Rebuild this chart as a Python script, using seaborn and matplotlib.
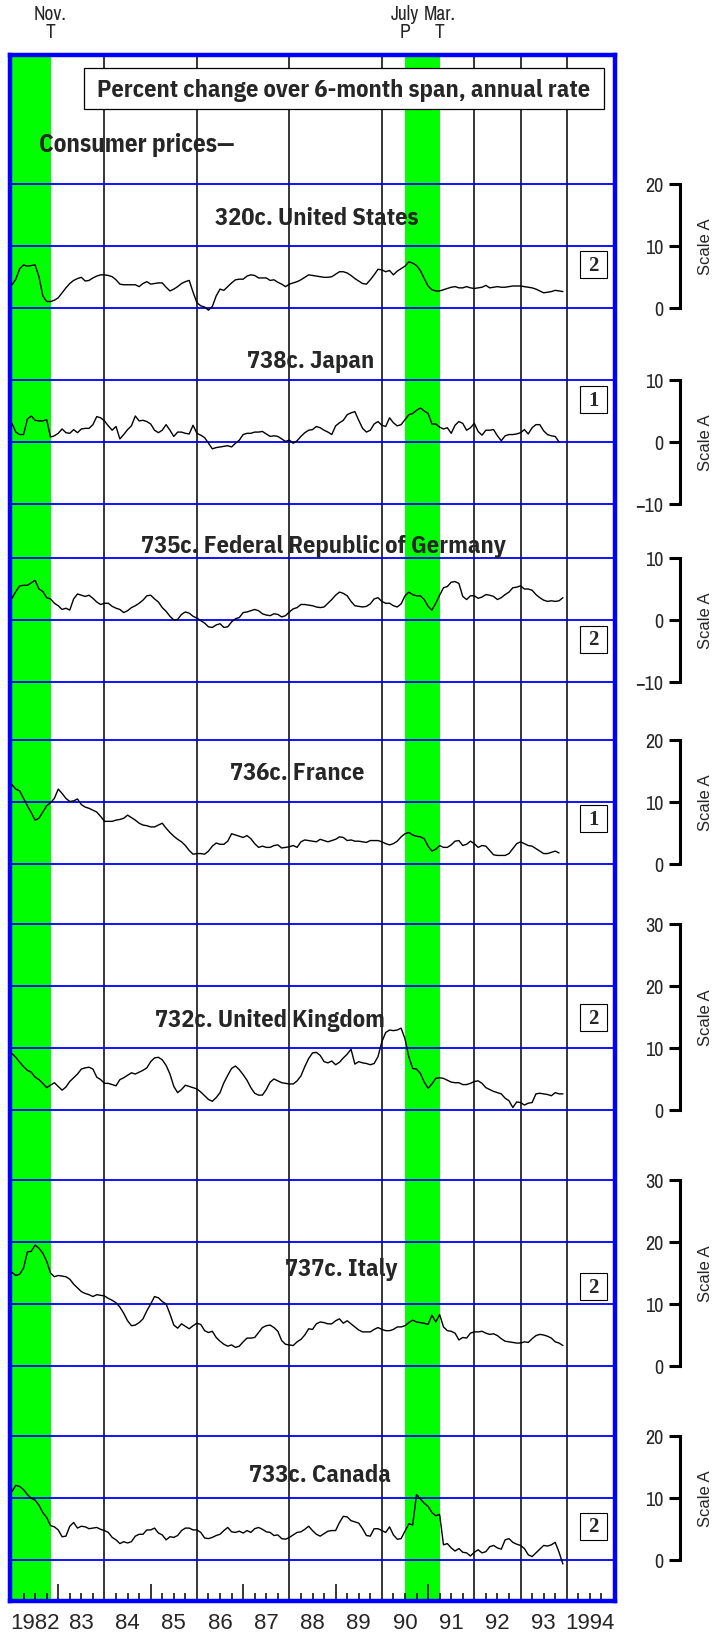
import numpy as np
import matplotlib
matplotlib.use("Agg")
import matplotlib.pyplot as plt
import matplotlib.transforms as mtransforms
import seaborn as sns

# Consumer prices, percent change over 6-month span (annual rate), monthly from Jan 1982
us = [
    3.7, 4.6, 6.3, 6.9, 6.7, 6.8, 6.9, 5.0, 1.9, 1.0, 1.0, 1.2,
    1.6, 2.4, 3.2, 3.9, 4.4, 4.7, 4.9, 4.3, 4.4, 4.8, 5.1, 5.3,
    5.3, 5.2, 5.0, 4.5, 3.8, 3.7, 3.7, 3.7, 3.7, 3.4, 3.9, 4.2,
    3.8, 3.9, 4.0, 4.0, 3.3, 2.7, 3.0, 3.4, 3.9, 4.2, 4.4, 2.5,
    0.8, 0.3, 0.1, -0.4, 0.2, 1.9, 3.0, 2.8, 3.4, 4.0, 4.5, 4.6,
    4.6, 5.1, 5.3, 5.2, 4.8, 4.8, 4.8, 4.4, 4.5, 4.1, 3.8, 3.4,
    3.8, 4.0, 4.2, 4.5, 4.9, 5.3, 5.2, 5.1, 5.0, 4.9, 4.9, 5.0,
    5.4, 5.8, 5.8, 5.6, 5.2, 4.7, 4.3, 3.9, 3.8, 4.5, 5.3, 6.2,
    6.1, 5.8, 6.0, 5.3, 5.9, 6.3, 6.7, 7.4, 7.2, 6.8, 6.0, 4.7,
    3.5, 2.9, 2.7, 2.7, 2.9, 3.1, 3.3, 3.4, 3.2, 3.2, 3.4, 3.2,
    3.1, 3.2, 3.3, 3.6, 3.2, 3.3, 3.4, 3.3, 3.3, 3.4, 3.5, 3.5,
    3.5, 3.4, 3.3, 3.2, 3.0, 2.7, 2.4, 2.5, 2.6, 2.8, 2.7, 2.6,
]
japan = [
    3.0, 1.6, 1.2, 1.2, 3.7, 4.2, 3.5, 3.4, 3.4, 3.6, 0.8, 1.0,
    1.4, 2.1, 1.5, 1.4, 2.0, 1.5, 2.1, 2.2, 2.2, 2.8, 4.1, 3.9,
    3.4, 2.6, 1.9, 2.5, 0.5, 1.2, 2.0, 2.6, 4.2, 3.4, 3.5, 3.3,
    2.9, 1.9, 1.5, 1.9, 2.8, 1.9, 0.9, 1.6, 1.6, 1.4, 1.3, 2.7,
    1.4, 1.1, 0.7, -0.2, -1.1, -0.9, -0.8, -0.7, -0.6, -0.8, -0.2, 0.3,
    1.2, 1.4, 1.4, 1.6, 1.6, 1.7, 1.3, 0.9, 1.0, 0.9, 0.5, 0.1,
    0.3, -0.2, 0.2, 0.9, 1.5, 1.9, 2.0, 2.5, 2.3, 1.9, 1.6, 1.2,
    2.6, 3.1, 3.5, 4.4, 4.7, 4.9, 3.5, 2.2, 1.6, 1.9, 2.9, 3.3,
    2.7, 2.5, 3.9, 3.1, 2.6, 2.8, 3.6, 4.4, 4.6, 5.1, 5.5, 5.0,
    4.6, 2.9, 2.9, 2.4, 2.1, 2.3, 1.4, 2.7, 3.3, 3.0, 1.9, 2.3,
    3.0, 1.7, 1.1, 1.9, 1.9, 2.0, 1.0, 0.2, 1.0, 1.2, 1.2, 1.3,
    1.5, 2.0, 1.3, 2.3, 2.8, 2.8, 1.8, 1.2, 1.0, 0.9, 0.0,
]
germany = [
    3.5, 4.6, 5.5, 5.6, 5.6, 6.0, 6.4, 5.0, 4.6, 3.6, 3.4, 2.7,
    2.3, 1.7, 1.9, 1.6, 3.4, 4.2, 4.0, 3.8, 4.0, 3.5, 2.9, 2.5,
    2.7, 2.7, 2.2, 1.9, 1.7, 1.2, 1.5, 2.0, 2.3, 2.7, 3.2, 3.9,
    4.0, 3.4, 2.9, 2.0, 1.4, 0.6, 0.0, 0.1, 0.9, 1.3, 1.1, 0.6,
    0.3, -0.1, -0.5, -1.1, -1.2, -0.8, -0.6, -1.2, -1.1, -0.3, 0.2, 0.4,
    1.2, 1.3, 1.5, 1.7, 1.5, 1.0, 0.8, 0.7, 1.0, 0.9, 0.5, 0.7,
    1.3, 1.8, 2.0, 2.5, 2.5, 2.4, 2.3, 2.1, 2.0, 2.1, 2.7, 3.3,
    4.0, 4.5, 4.3, 3.9, 3.0, 2.3, 2.2, 2.1, 2.2, 2.6, 3.4, 3.6,
    3.0, 2.7, 2.7, 2.3, 2.1, 2.6, 3.9, 4.5, 4.1, 3.9, 3.9, 3.3,
    2.2, 1.6, 2.7, 4.0, 5.2, 5.4, 6.1, 6.2, 5.9, 3.8, 3.3, 3.9,
    3.9, 3.5, 3.7, 4.1, 4.0, 3.8, 3.3, 3.6, 4.1, 4.5, 5.2, 5.3,
    5.5, 5.0, 5.0, 4.8, 4.1, 3.6, 3.2, 3.0, 3.1, 3.0, 3.1, 3.6,
]
france = [
    12.7, 12.0, 11.7, 10.5, 9.3, 8.2, 7.0, 7.3, 8.3, 9.3, 9.8, 10.5,
    12.0, 11.3, 10.5, 10.0, 10.1, 10.4, 9.5, 9.1, 8.9, 8.6, 8.3, 7.6,
    6.8, 6.8, 6.8, 7.0, 7.1, 7.3, 7.8, 7.4, 7.0, 6.5, 6.2, 6.1,
    5.9, 5.9, 6.2, 6.5, 5.7, 5.0, 4.4, 3.9, 3.5, 2.9, 2.1, 1.5,
    1.6, 1.6, 1.5, 2.0, 2.8, 3.3, 3.1, 3.1, 3.6, 4.8, 4.6, 4.4,
    4.2, 4.5, 4.0, 3.2, 2.6, 2.8, 2.6, 2.6, 2.9, 3.0, 2.5, 2.6,
    2.7, 2.9, 2.6, 3.5, 3.8, 3.7, 3.6, 3.5, 3.9, 3.7, 3.5, 3.7,
    3.9, 4.3, 4.2, 3.7, 3.8, 3.6, 3.6, 3.5, 3.4, 3.7, 3.7, 3.7,
    3.5, 3.2, 3.0, 3.2, 3.6, 4.3, 4.8, 5.0, 4.6, 4.4, 4.3, 4.0,
    2.8, 2.0, 2.3, 2.9, 2.6, 2.6, 3.0, 3.6, 3.7, 2.9, 3.1, 3.6,
    3.2, 2.6, 2.9, 2.8, 2.1, 1.4, 1.3, 1.3, 1.3, 1.6, 2.4, 3.2,
    3.5, 3.2, 2.9, 2.8, 2.4, 2.0, 1.6, 1.6, 1.8, 2.0, 1.7,
]
uk = [
    9.1, 8.5, 7.7, 7.0, 6.4, 6.1, 5.3, 4.9, 4.3, 3.6, 4.0, 4.4,
    3.8, 3.2, 3.7, 4.6, 5.2, 5.8, 6.6, 6.8, 6.9, 6.6, 5.3, 4.9,
    4.3, 4.3, 4.1, 3.9, 4.9, 5.2, 5.6, 6.0, 5.8, 6.1, 6.4, 6.8,
    7.8, 8.4, 8.5, 8.1, 7.2, 5.8, 3.8, 2.8, 3.3, 4.0, 3.8, 3.6,
    3.4, 2.9, 2.3, 1.7, 1.4, 2.0, 2.8, 4.4, 5.6, 6.7, 7.1, 6.5,
    5.7, 4.8, 3.6, 2.7, 2.4, 2.4, 3.3, 4.5, 5.0, 4.7, 4.4, 4.3,
    4.2, 4.2, 4.7, 5.5, 7.0, 8.3, 9.2, 9.3, 8.8, 7.8, 7.6, 7.9,
    7.3, 7.7, 8.4, 9.0, 9.8, 7.4, 7.8, 7.6, 7.5, 7.3, 7.5, 8.6,
    11.0, 12.5, 12.9, 12.8, 12.9, 13.2, 11.5, 8.6, 6.7, 6.6, 5.9, 4.5,
    3.5, 4.2, 5.1, 5.2, 5.1, 4.8, 4.5, 4.4, 4.4, 4.1, 4.1, 4.3,
    4.6, 4.7, 4.3, 3.6, 3.3, 3.0, 2.8, 2.6, 1.9, 1.5, 0.4, 1.3,
    1.2, 0.8, 1.1, 1.2, 2.6, 2.7, 2.6, 2.5, 2.3, 2.8, 2.6, 2.6,
]
italy = [
    15.1, 14.6, 14.8, 15.8, 18.4, 18.5, 19.5, 19.0, 18.2, 16.9, 15.0, 14.4,
    14.6, 14.5, 14.4, 14.0, 13.2, 12.6, 12.0, 11.7, 11.5, 11.2, 11.5, 11.4,
    11.3, 10.9, 10.6, 10.2, 9.5, 8.5, 7.3, 6.5, 6.6, 7.0, 7.6, 8.9,
    10.0, 11.2, 11.0, 10.4, 10.0, 8.4, 6.6, 6.1, 6.8, 6.4, 6.0, 6.5,
    6.9, 6.7, 5.7, 5.4, 5.6, 4.6, 4.0, 3.5, 3.2, 3.4, 3.0, 3.2,
    3.9, 4.5, 4.5, 4.6, 5.4, 6.2, 6.5, 6.6, 6.2, 5.6, 4.1, 3.5,
    3.4, 3.3, 3.9, 4.3, 5.0, 6.0, 5.9, 6.8, 7.1, 7.0, 6.8, 6.8,
    7.3, 7.6, 6.9, 7.3, 6.8, 6.3, 5.8, 5.5, 5.5, 5.5, 5.9, 6.2,
    5.9, 5.7, 5.7, 5.9, 6.3, 6.3, 6.5, 7.0, 7.4, 7.1, 7.0, 6.9,
    6.7, 8.2, 7.1, 8.3, 6.3, 5.7, 5.6, 5.3, 4.2, 4.6, 4.5, 5.3,
    5.5, 5.5, 5.6, 5.3, 5.1, 5.2, 4.9, 4.4, 4.0, 3.9, 3.8, 3.7,
    3.7, 3.9, 3.8, 4.4, 4.9, 5.1, 5.0, 4.8, 4.5, 3.9, 3.7, 3.3,
]
canada = [
    11.0, 12.0, 11.8, 11.3, 10.5, 9.9, 9.6, 8.8, 7.6, 6.8, 5.5, 5.3,
    4.8, 3.7, 3.8, 5.4, 6.0, 5.1, 5.4, 5.3, 5.0, 5.1, 5.2, 4.9,
    4.7, 4.4, 3.6, 3.2, 2.6, 2.9, 2.7, 2.9, 3.8, 4.1, 4.1, 4.8,
    4.8, 5.1, 4.3, 4.0, 3.2, 3.7, 3.6, 3.9, 4.7, 5.1, 5.1, 4.8,
    4.8, 4.4, 3.5, 3.4, 3.6, 3.9, 4.1, 4.7, 5.2, 4.5, 4.4, 4.6,
    4.3, 4.7, 4.4, 5.0, 5.2, 4.9, 4.5, 4.4, 3.9, 4.0, 3.4, 3.3,
    3.6, 4.0, 4.4, 4.5, 4.9, 5.4, 4.7, 4.1, 3.8, 4.2, 4.6, 4.7,
    4.7, 6.0, 7.0, 6.9, 6.3, 6.1, 5.9, 5.0, 3.9, 3.8, 5.0, 5.0,
    4.7, 4.4, 5.3, 4.0, 3.3, 3.4, 4.6, 5.8, 5.6, 10.5, 9.8, 9.1,
    8.6, 7.6, 7.1, 7.3, 2.4, 2.6, 1.9, 1.4, 1.8, 1.2, 1.1, 0.6,
    1.2, 1.6, 1.1, 1.3, 2.1, 2.3, 1.9, 1.7, 3.2, 3.4, 2.8, 2.5,
    2.3, 1.8, 0.8, 0.5, 1.1, 1.7, 2.3, 2.2, 2.4, 2.8, 1.2, -0.7,
]

series = [us, japan, germany, france, uk, italy, canada]
titles = ["320c. United States", "738c. Japan", "735c. Federal Republic of Germany",
          "736c. France", "732c. United Kingdom", "737c. Italy", "733c. Canada"]
scale_ticks = [[0, 10, 20], [-10, 0, 10], [-10, 0, 10], [0, 10, 20],
               [0, 10, 20, 30], [0, 10, 20, 30], [0, 10, 20]]
box_numbers = ["2", "1", "2", "1", "2", "2", "2"]

# recessions (peak, trough) and the turning point labels
rec_start = [1981.5, 1990.5]
rec_end = [1982.833, 1991.25]
turn_dates = [1982.833, 1990.5, 1991.25]
turn_months = ["Nov.", "July", "Mar."]
turn_types = ["T", "P", "T"]

year_lines = [1984, 1986, 1988, 1990, 1992, 1993, 1994]
year_ticks = [1983, 1985, 1987, 1989, 1991]
year_labels = ["1982", "83", "84", "85", "86", "87", "88", "89", "90", "91", "92", "93", "1994"]

# layout (pixels)
W, H = 713, 1633
L, R, T, B = 9.8, 615.3, 55.8, 1601.5     # frame border centres
X0, X1 = 12.0, 613.0                      # 1982.0 and 1995.0
S = 6.2                                   # pixels per percentage point
zero_px = [308.7, 443, 621, 864.5, 1111, 1367, 1560.7]
title_pos = [(1988.59, 13.5), (1988.45, 12.1), (1988.73, 11.0), (1988.16, 13.6),
             (1987.57, 13.5), (1989.12, 14.6), (1988.66, 12.7)]
box_pos = [6.9, 6.8, -3.1, 7.2, 14.9, 12.8, 5.4]

sns.set_theme(style="white")
NARROW = ["Archivo Narrow", "Liberation Sans", "DejaVu Sans"]
BOLD = ["IBM Plex Sans Condensed", "Encode Sans Condensed", "Liberation Sans", "DejaVu Sans"]
SANS = ["Liberation Sans", "DejaVu Sans"]
plt.rcParams["font.family"] = NARROW

fig = plt.figure(figsize=(W / 100, H / 100), dpi=100)


def rect(left, top, right, bottom):
    return [left / W, 1 - bottom / H, (right - left) / W, (bottom - top) / H]


xpp = (X1 - X0) / 13
xlim = (1982 - (X0 - L) / xpp, 1995 + (R - X1) / xpp)

base = fig.add_axes(rect(L, T, R, B))
base.set_xlim(xlim)
base.set_ylim(0, 1)
base.set_yticks([])
for s in base.spines.values():
    s.set_color("blue")
    s.set_linewidth(3.2)
    s.set_zorder(5)
for a, b in zip(rec_start, rec_end):
    base.axvspan(a, b, color="#00ff00", lw=0, zorder=0)
for yr in year_lines:
    base.axvline(yr, color="black", lw=1.1, zorder=1)
base.set_xticks(year_ticks)
base.set_xticks([q for q in np.arange(1982, 1995, 0.25) if q % 1], minor=True)
base.tick_params(axis="x", which="major", direction="in", length=12, width=1.1,
                 color="black", bottom=True, top=False, labelbottom=False)
base.tick_params(axis="x", which="minor", direction="in", length=5.6, width=1.1,
                 color="black", bottom=True, top=False)

sec = base.secondary_xaxis("bottom")
sec.set_xticks(np.arange(1982, 1995) + 0.5, labels=year_labels)
sec.tick_params(length=0, pad=8, labelsize=16)
for lab in sec.get_xticklabels():
    lab.set_family(SANS)
sec.spines["bottom"].set_visible(False)

tr_top = mtransforms.blended_transform_factory(base.transData, fig.transFigure)
for d, m, t in zip(turn_dates, turn_months, turn_types):
    base.text(d, 1 - 14 / H, m, transform=tr_top, ha="center", va="center", fontsize=14)
    base.text(d, 1 - 33 / H, t, transform=tr_top, ha="center", va="center", fontsize=14)

fig.add_artist(plt.Rectangle((84 / W, 1 - 110 / H), (604 - 84) / W, 41 / H,
                             transform=fig.transFigure, fc="white", ec="black", lw=0.9, zorder=2))
fig.text(344 / W, 1 - 90 / H, "Percent change over 6-month span, annual rate",
         ha="center", va="center", fontsize=17.6, fontweight="bold", family=BOLD, zorder=3)
fig.text(39 / W, 1 - 145 / H, "Consumer prices\u2014", ha="left", va="center",
         fontsize=18, fontweight="bold", family=BOLD, zorder=3)

spine_x = (679.5 - L) / (R - L)
label_x = (705 - L) / (R - L)
for i, vals in enumerate(series):
    ticks = scale_ticks[i]
    lo, hi = ticks[0], ticks[-1]
    y0, y1 = lo - 5, hi + 5
    ax = fig.add_axes(rect(L, zero_px[i] - y1 * S, R, zero_px[i] - y0 * S))
    ax.set_facecolor("none")
    x = 1982 + np.arange(len(vals)) / 12
    sns.lineplot(x=x, y=vals, ax=ax, color="black", lw=1.0, zorder=3)
    ax.set_xlim(xlim)
    ax.set_ylim(y0, y1)
    ax.set_yticks(ticks)
    ax.yaxis.grid(True, color="blue", lw=1.3)
    ax.xaxis.grid(False)
    ax.tick_params(axis="x", bottom=False, labelbottom=False)
    ax.set_xlabel("")
    for side in ["top", "right", "bottom"]:
        ax.spines[side].set_visible(False)
    ax.spines["left"].set_position(("axes", spine_x))
    ax.spines["left"].set_bounds(lo, hi)
    ax.spines["left"].set_color("black")
    ax.spines["left"].set_linewidth(2.2)
    ax.tick_params(axis="y", left=True, direction="out", length=8, width=2.2,
                   color="black", pad=3.5, labelsize=14.5)
    ax.set_ylabel("Scale A", fontsize=12, family=SANS, va="center")
    ax.yaxis.set_label_coords(label_x, (lo + hi) / 2,
                              transform=mtransforms.blended_transform_factory(ax.transAxes, ax.transData))
    tx, ty = title_pos[i]
    ax.text(tx, ty, titles[i], ha="center", va="baseline", fontsize=17.6, fontweight="bold", family=BOLD)
    bx, by = 1994.58, box_pos[i]
    ax.add_patch(plt.Rectangle((-13.5, -13.5), 27, 27, fc="white", ec="black", lw=0.8, zorder=4,
                               transform=mtransforms.ScaledTranslation(bx, by, ax.transData)))
    ax.text(bx, by, box_numbers[i], ha="center", va="center", fontsize=15, fontweight="bold",
            family=["Liberation Serif", "DejaVu Serif"], zorder=5)

fig.savefig("out.png", dpi=100)
